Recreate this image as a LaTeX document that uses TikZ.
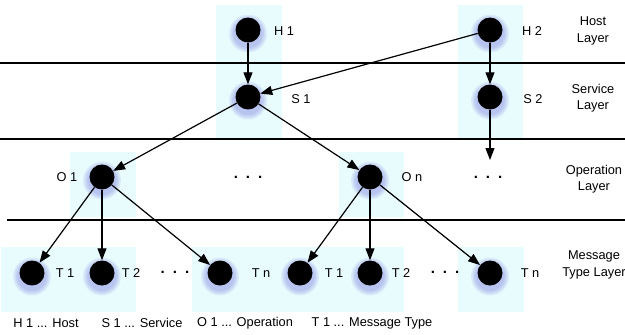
\documentclass[tikz,border=0pt]{standalone}
\usepackage{fontspec}
\setmainfont{Liberation Sans}
\usetikzlibrary{arrows.meta}
\definecolor{boxcyan}{RGB}{232,252,254}
\definecolor{glowblue}{RGB}{80,80,210}
\tikzset{
  dot/.style={circle, fill=black, minimum size=25pt, inner sep=0pt},
  lbl/.style={font=\fontsize{12.8}{16.5}\selectfont, inner sep=0pt, align=center},
  arr/.style={-{Triangle[length=12pt,width=9pt]}, line width=1.2pt},
  band/.style={fill=boxcyan, draw=none},
  layerline/.style={line width=1.2pt},
  dots/.style={font=\fontsize{15}{16}\selectfont\bfseries, inner sep=0pt}
}
\newcommand\mydot[3]{%
  \foreach \r in {19,17.5,16,14.5}{\fill[glowblue, opacity=0.09] (#2,#3+3.5) circle (\r pt);}
  \node[dot] (#1) at (#2,#3) {};
}
\begin{document}
\begin{tikzpicture}[x=1pt,y=-1pt]
\useasboundingbox (0,0) rectangle (625,335);
% bands
\fill[band] (216,5) rectangle (282,138);
\fill[band] (458,5) rectangle (523,138);
\fill[band] (70,152) rectangle (136,217);
\fill[band] (339,152) rectangle (404,217);
\fill[band] (1,247) rectangle (136,312);
\fill[band] (192,247) rectangle (404,312);
\fill[band] (458,247) rectangle (524,312);
% layer lines
\draw[layerline] (0,63) -- (625,63);
\draw[layerline] (0,139) -- (625,139);
\draw[layerline] (7,220) -- (625,220);
% nodes
\mydot{H1}{248}{30}
\mydot{H2}{490}{30}
\mydot{S1}{248}{97}
\mydot{S2}{490}{97}
\mydot{O1}{102}{177}
\mydot{On}{370}{177}
\mydot{Ta}{32}{273}
\mydot{Tb}{102}{273}
\mydot{Tc}{220}{273}
\mydot{Td}{300}{273}
\mydot{Te}{370}{273}
\mydot{Tf}{490}{273}
\coordinate (S2end) at (490,160);
% node labels
\node[lbl] (lH1) at (284,31) {H 1};
\node[lbl] (lH2) at (532,31) {H 2};
\node[lbl] (lS1) at (301,99) {S 1};
\node[lbl] (lS2) at (533,99) {S 2};
\node[lbl] (lO1) at (67,177) {O 1};
\node[lbl] (lOn) at (412,177) {O n};
\node[lbl] (lTa) at (65,273) {T 1};
\node[lbl] (lTb) at (131,273) {T 2};
\node[lbl] (lTc) at (261,273) {T n};
\node[lbl] (lTd) at (334,273) {T 1};
\node[lbl] (lTe) at (401,273) {T 2};
\node[lbl] (lTf) at (530,273) {T n};
% ellipses
\node[dots] (d1) at (248,177) {.\hskip 8pt.\hskip 8pt.};
\node[dots] (d2) at (488,177) {.\hskip 8pt.\hskip 8pt.};
\node[dots] (d3) at (175,272) {.\hskip 8pt.\hskip 8pt.};
\node[dots] (d4) at (445,272) {.\hskip 8pt.\hskip 8pt.};
% layer labels
\node[lbl] (L1) at (593,31) {Host\\Layer};
\node[lbl] (L2) at (593,98) {Service\\Layer};
\node[lbl] (L3) at (594,179) {Operation\\Layer};
\node[lbl] (L4) at (594,265) {Message\\Type Layer};
% legend
\node[lbl] (g1) at (46,323) {H 1 ... Host};
\node[lbl] (g2) at (142,323) {S 1 ... Service};
\node[lbl] (g3) at (245,323) {O 1 ... Operation};
\node[lbl] (g4) at (372,323) {T 1 ... Message Type};
% edges
\draw[arr] (H1) -- (S1);
\draw[arr] (H2) -- (S1);
\draw[arr] (H2) -- (S2);
\draw[arr] (S2) -- (S2end);
\draw[arr] (S1) -- (O1);
\draw[arr] (S1) -- (On);
\draw[arr] (O1) -- (Ta);
\draw[arr] (O1) -- (Tb);
\draw[arr] (O1) -- (Tc);
\draw[arr] (On) -- (Td);
\draw[arr] (On) -- (Te);
\draw[arr] (On) -- (Tf);
\end{tikzpicture}
\end{document}
